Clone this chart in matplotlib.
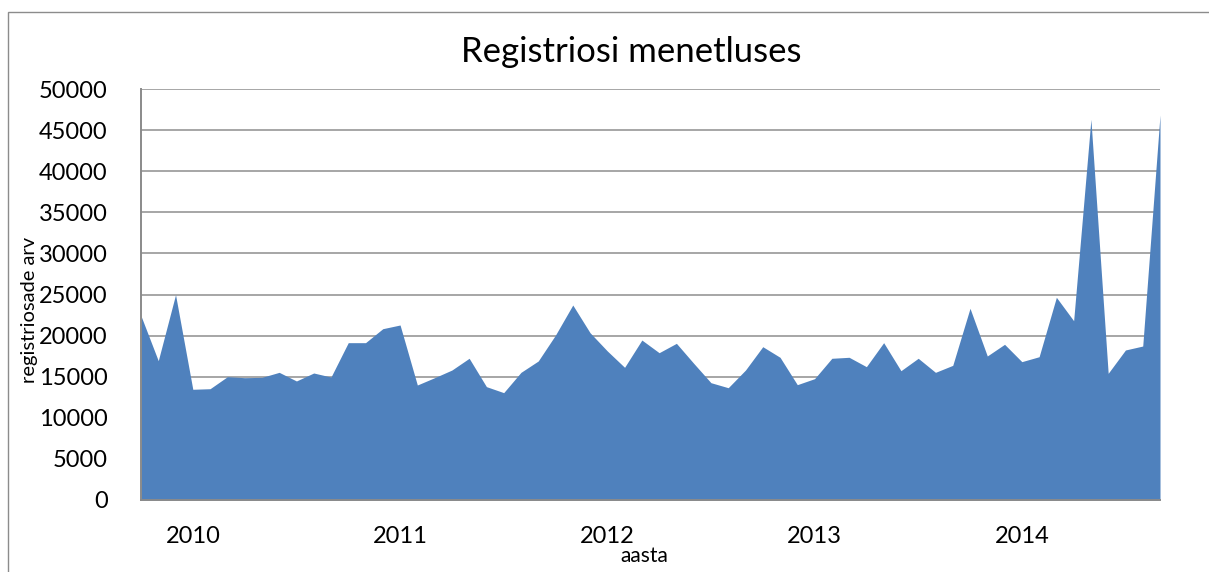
import matplotlib
matplotlib.use("Agg")
import matplotlib.pyplot as plt
from matplotlib.patches import Rectangle

# Monthly values (60 months)
values = [22400, 16950, 24980, 13470, 13540, 15000, 14880, 14920, 15530, 14480,
          15450, 14960, 19140, 19140, 20840, 21290, 13990, 14880, 15810, 17240,
          13790, 13060, 15530, 16910, 20070, 23720, 20350, 18130, 16140, 19460,
          17920, 19060, 16630, 14270, 13660, 15810, 18650, 17360, 14030, 14760,
          17240, 17360, 16220, 19140, 15730, 17240, 15530, 16380, 23320, 17520,
          18940, 16830, 17430, 24660, 21810, 46310, 15410, 18250, 18730, 46840]
year_labels = ["2010", "2011", "2012", "2013", "2014"]
year_label_pos = [3, 15, 27, 39, 51]
y_ticks = list(range(0, 50001, 5000))

title = "Registriosi menetluses"
ylabel = "registriosade arv"
xlabel = "aasta"

plt.rcParams['font.family'] = ['Lato', 'DejaVu Sans']

W, H = 1209, 572
fig = plt.figure(figsize=(W / 100, H / 100), dpi=100)
fig.patch.set_facecolor("white")

# outer chart border (left and top edges visible, rest cropped)
fig.patches.append(Rectangle((8 / W, -0.5), 1.5, 1.5 - 12 / H,
                             transform=fig.transFigure, fill=False,
                             edgecolor="#8c8c8c", linewidth=1.0))

ax = fig.add_axes([141 / W, (H - 500) / H, (1160 - 141) / W, (500 - 89) / H])
x = list(range(len(values)))
ax.fill_between(x, 0, values, color="#4F81BD", linewidth=0, zorder=3)

ax.set_xlim(0, len(values) - 1)
ax.set_ylim(0, 50000)
ax.set_yticks(y_ticks)
ax.set_yticklabels([str(v) for v in y_ticks], fontsize=17)
ax.set_xticks(year_label_pos)
ax.set_xticklabels(year_labels, fontsize=17)
ax.tick_params(axis="both", length=0)
ax.tick_params(axis="y", pad=24)
ax.tick_params(axis="x", pad=19)

ax.grid(axis="y", color="#8e8e8e", linewidth=1.1, zorder=1)
ax.set_axisbelow(True)
for s in ["top", "right"]:
    ax.spines[s].set_visible(False)
for s in ["left", "bottom"]:
    ax.spines[s].set_color("#8a8a8a")
    ax.spines[s].set_linewidth(1.4)
    ax.spines[s].set_zorder(4)

fig.text(631 / W, 1 - 52 / H, title, fontsize=25, ha="center", va="center")
fig.text(30 / W, 1 - 310 / H, ylabel, fontsize=14.5, rotation=90, ha="center", va="center")
fig.text(644 / W, 1 - 556 / H, xlabel, fontsize=15, ha="center", va="center")

fig.savefig("out.png", dpi=100)
